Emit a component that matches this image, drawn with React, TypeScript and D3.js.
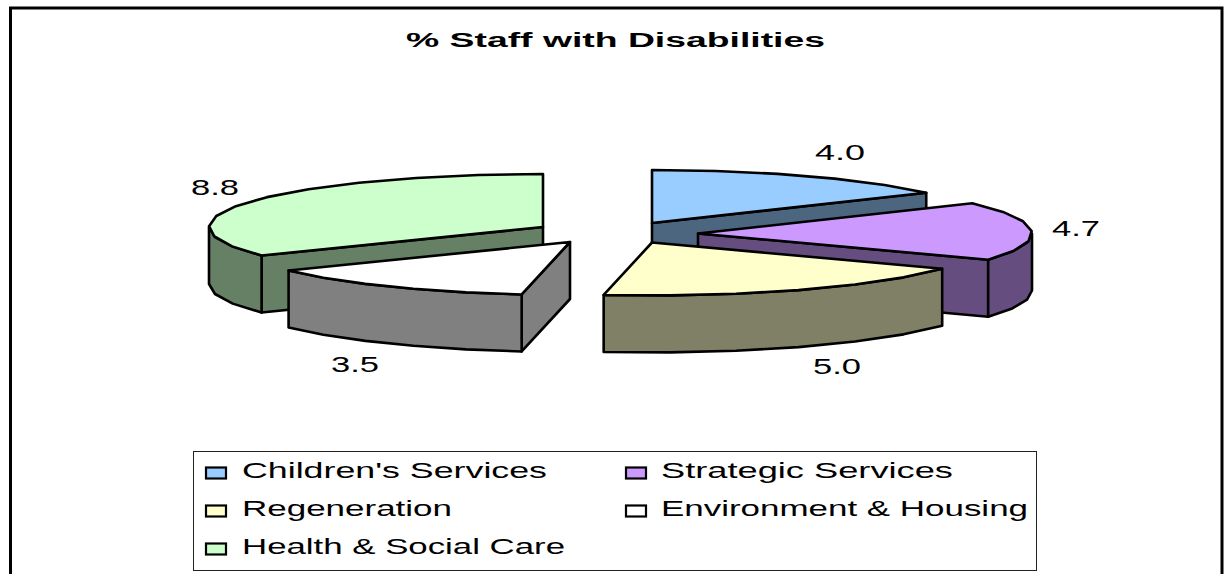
import React from "react";
import * as d3 from "d3";

const title = "% Staff with Disabilities";
const categories = ["Children's Services", "Strategic Services", "Regeneration", "Environment & Housing", "Health & Social Care"];
const values = [3.98, 4.65, 4.95, 3.54, 8.84];
const valueLabels = ["4.0", "4.7", "5.0", "3.5", "8.8"];
const topColors = ["#99CCFF", "#CC99FF", "#FFFFCC", "#FFFFFF", "#CCFFCC"];
const sideColors = ["#4D6680", "#664D80", "#808066", "#808080", "#668066"];

// layout (not data)
const W = 1229, H = 574;
const RX = 334, RY = 53, DEPTH = 57;
const apexX = [652, 698, 652, 570, 543];
const apexY = [223, 233.5, 242.5, 242, 227];
const drawOrder = [4, 0, 1, 3, 2];
const labelPos = [
  { x: 815, y: 160, w: 50 },
  { x: 1052, y: 236, w: 48 },
  { x: 813, y: 374, w: 48 },
  { x: 331, y: 372, w: 48 },
  { x: 191, y: 195, w: 48 },
];
const legendPos = [
  { col: 0, row: 0, w: 305 },
  { col: 1, row: 0, w: 292 },
  { col: 0, row: 1, w: 210 },
  { col: 1, row: 1, w: 367 },
  { col: 0, row: 2, w: 323 },
];
const legendColX = [205, 625];
const legendRowY = [478, 516, 554];

const STEP = (12 * Math.PI) / 180;

export default function App() {
  const arcs = d3.pie<number>().sort(null).startAngle(0).endAngle(2 * Math.PI)(values);
  const sx = d3.scaleLinear().domain([-1, 1]).range([-RX, RX]);
  const sy = d3.scaleLinear().domain([-1, 1]).range([-RY, RY]);
  const line = d3.line<[number, number]>();

  const pt = (i: number, a: number, dz = 0): [number, number] => [
    apexX[i] + sx(Math.sin(a)),
    apexY[i] + sy(-Math.cos(a)) + dz,
  ];
  const samples = (a0: number, a1: number) => {
    const n = Math.max(1, Math.ceil((a1 - a0) / STEP));
    return d3.range(n + 1).map((k) => a0 + ((a1 - a0) * k) / n);
  };

  const slices = drawOrder.map((i) => {
    const { startAngle: a0, endAngle: a1 } = arcs[i];
    const apex: [number, number] = [apexX[i], apexY[i]];
    const apexLow: [number, number] = [apexX[i], apexY[i] + DEPTH];
    const faces: string[] = [];
    if (Math.sin(a0) < 0) faces.push(line([apex, pt(i, a0), pt(i, a0, DEPTH), apexLow])! + "Z");
    if (Math.sin(a1) > 0.001) faces.push(line([apex, pt(i, a1), pt(i, a1, DEPTH), apexLow])! + "Z");
    const f0 = Math.max(a0, Math.PI / 2);
    const f1 = Math.min(a1, (3 * Math.PI) / 2);
    if (f1 > f0) {
      const as = samples(f0, f1);
      const pts = [...as.map((a) => pt(i, a)), ...as.slice().reverse().map((a) => pt(i, a, DEPTH))];
      faces.push(line(pts)! + "Z");
    }
    const top = line([apex, ...samples(a0, a1).map((a) => pt(i, a))])! + "Z";
    return { i, faces, top };
  });

  const font = "'Liberation Sans', Arial, sans-serif";

  return (
    <svg
      width={W}
      height={H}
      viewBox={`0 0 ${W} ${H}`}
      style={{ position: "absolute", left: 0, top: 0, display: "block", background: "#fff" }}
    >
      {/* chart frame: bottom edge is cut off by the picture */}
      <path d={`M10.5 ${H + 5} V8 H1222 V${H + 5}`} fill="#fff" stroke="#000" strokeWidth={3} />
      <text
        x={406}
        y={47}
        fontFamily={font}
        fontWeight="bold"
        fontSize={20}
        textLength={419}
        lengthAdjust="spacingAndGlyphs"
        fill="#000"
      >
        {title}
      </text>

      {slices.map((s) => (
        <g key={s.i} stroke="#000" strokeWidth={2.6} strokeLinejoin="round">
          {s.faces.map((d, k) => (
            <path key={k} d={d} fill={sideColors[s.i]} />
          ))}
          <path d={s.top} fill={topColors[s.i]} />
        </g>
      ))}

      {valueLabels.map((t, i) => (
        <text
          key={t}
          x={labelPos[i].x}
          y={labelPos[i].y}
          fontFamily={font}
          fontSize={22}
          textLength={labelPos[i].w}
          lengthAdjust="spacingAndGlyphs"
          fill="#000"
        >
          {t}
        </text>
      ))}

      <rect x={193.5} y={451.5} width={843} height={119} fill="#fff" stroke="#222" strokeWidth={1} />
      {categories.map((c, i) => {
        const p = legendPos[i];
        const x = legendColX[p.col];
        const y = legendRowY[p.row];
        return (
          <g key={c}>
            <rect x={x + 1} y={y - 10.5} width={20} height={11} fill={topColors[i]} stroke="#000" strokeWidth={2.2} />
            <text
              x={x + 37 - (p.col === 1 ? 1 : 0)}
              y={y}
              fontFamily={font}
              fontSize={21.5}
              textLength={p.w}
              lengthAdjust="spacingAndGlyphs"
              fill="#000"
            >
              {c}
            </text>
          </g>
        );
      })}
    </svg>
  );
}
